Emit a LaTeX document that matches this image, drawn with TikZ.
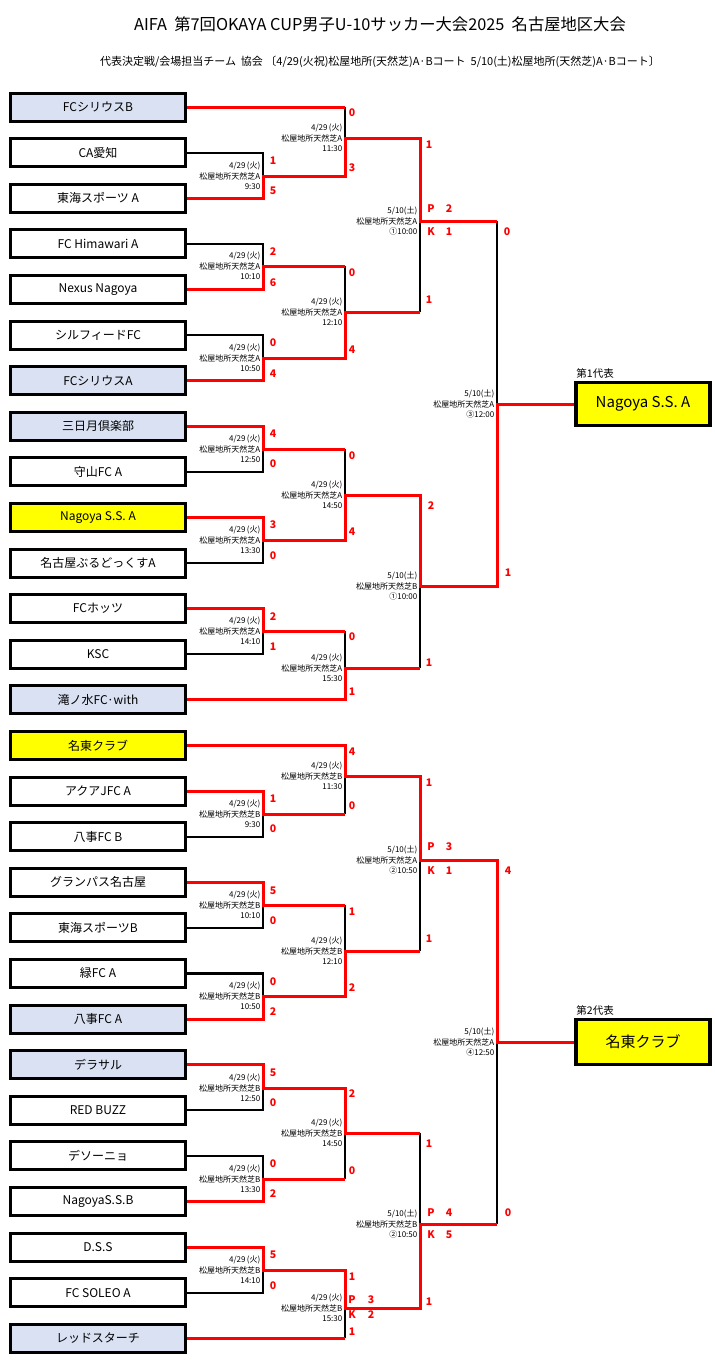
\documentclass[tikz,border=0pt]{standalone}
\usepackage{fontspec}
\setmainfont{Noto Sans CJK JP}
\definecolor{boxblue}{RGB}{217,225,242}
\definecolor{boxyellow}{RGB}{255,255,0}
\tikzset{
	team/.style={draw,line width=3pt,minimum width=175pt,minimum height=28pt,inner sep=0pt,font=\fontsize{12}{12}\selectfont},
	final/.style={draw,line width=3.5pt,fill=boxyellow,minimum width=134pt,minimum height=43pt,inner sep=0pt,font=\fontsize{15}{15}\selectfont},
	win/.style={red,line width=3pt},
	lose/.style={black,line width=2.2pt},
	score/.style={text=red,inner sep=0pt,font=\fontsize{10.5}{10.5}\selectfont\bfseries},
	date/.style={anchor=east,align=right,inner xsep=2.5pt,inner ysep=0pt,font=\fontsize{8}{10.5}\selectfont}
}
\begin{document}
\begin{tikzpicture}[x=1pt,y=-1pt]%名古屋地区大会 トーナメント
		\useasboundingbox (0,0) rectangle (715,1361);
		\node[font=\fontsize{16.3}{16.3}\selectfont] (title) at (380,24) {AIFA\ \ 第7回OKAYA CUP男子U-10サッカー大会2025\ \ 名古屋地区大会};
		\node[font=\fontsize{11}{11}\selectfont] (sub) at (380,62) {代表決定戦/会場担当チーム\ \ 協会\ 〔4/29(火祝)松屋地所(天然芝)A·Bコート\ \ 5/10(土)松屋地所(天然芝)A·Bコート〕};
		\foreach \name/\fc [count=\i] in {FCシリウスB/boxblue,CA愛知/white,東海スポーツ A/white,FC Himawari A/white,Nexus Nagoya/white,シルフィードFC/white,FCシリウスA/boxblue,三日月倶楽部/boxblue,守山FC A/white,Nagoya S.S. A/boxyellow,名古屋ぶるどっくすA/white,FCホッツ/white,KSC/white,滝ノ水FC·with/boxblue,名東クラブ/boxyellow,アクアJFC A/white,八事FC B/white,グランパス名古屋/white,東海スポーツB/white,緑FC A/white,八事FC A/boxblue,デラサル/boxblue,RED BUZZ/white,デソーニョ/white,NagoyaS.S.B/white,D.S.S/white,FC SOLEO A/white,レッドスターチ/boxblue}
		\node[team,fill=\fc] (t\i) at (98,{107+(\i-1)*45.6}) {\name};
		\node[final] (fin1) at (643,404) {Nagoya S.S. A};
		\node[final,minimum height=45pt] (fin2) at (643,1042) {名東クラブ};
		\node[anchor=south west,inner sep=2pt,font=\fontsize{10.5}{10.5}\selectfont] (rep1) at (fin1.north west) {第1代表};
		\node[anchor=south west,inner sep=2pt,font=\fontsize{10.5}{10.5}\selectfont] (rep2) at (fin2.north west) {第2代表};
		\coordinate (m1) at (263,176);
		\coordinate (m2) at (345,138);
		\coordinate (m3) at (263,266);
		\coordinate (m4) at (263,358);
		\coordinate (m5) at (345,312);
		\coordinate (m6) at (420,221);
		\coordinate (m7) at (263,449);
		\coordinate (m8) at (263,540);
		\coordinate (m9) at (345,495);
		\coordinate (m10) at (263,631);
		\coordinate (m11) at (345,668);
		\coordinate (m12) at (420,586);
		\coordinate (m13) at (497,404);
		\coordinate (m14) at (263,814);
		\coordinate (m15) at (345,776);
		\coordinate (m16) at (263,905);
		\coordinate (m17) at (263,996);
		\coordinate (m18) at (345,951);
		\coordinate (m19) at (420,860);
		\coordinate (m20) at (263,1088);
		\coordinate (m21) at (263,1179);
		\coordinate (m22) at (345,1133);
		\coordinate (m23) at (263,1270);
		\coordinate (m24) at (345,1308);
		\coordinate (m25) at (420,1224);
		\coordinate (m26) at (497,1042);
		% black
		\draw[lose] (t2.east) -| (m1);
		\draw[lose] (t1.east -| m2) -- (m2);
		\draw[lose] (t4.east) -| (m3);
		\draw[lose] (m3 -| m5) -- (m5);
		\draw[lose] (t6.east) -| (m4);
		\draw[lose] (m6) -- (m5 -| m6);
		\draw[lose] (m6 -| m13) -- (m13);
		\draw[lose] (t9.east) -| (m7);
		\draw[lose] (m7 -| m9) -- (m9);
		\draw[lose] (t11.east) -| (m8);
		\draw[lose] (t13.east) -| (m10);
		\draw[lose] (m10 -| m11) -- (m11);
		\draw[lose] (m11 -| m12) -- (m12);
		\draw[lose] (t17.east) -| (m14);
		\draw[lose] (m14 -| m15) -- (m15);
		\draw[lose] (t19.east) -| (m16);
		\draw[lose] (m16 -| m18) -- (m18);
		\draw[lose] (t20.east) -| (m17);
		\draw[lose] (m18 -| m19) -- (m19);
		\draw[lose] (t23.east) -| (m20);
		\draw[lose] (t24.east) -| (m21);
		\draw[lose] (m21 -| m22) -- (m22);
		\draw[lose] (m22 -| m25) -- (m25);
		\draw[lose] (t27.east) -| (m23);
		\draw[lose] (t28.east -| m24) -- (m24);
		\draw[lose] (m25 -| m26) -- (m26);
		% red
		\draw[win] (t1.east) -- (t1.east -| m2);
		\draw[win] (t3.east) -| (m1) -| (m2) -| (m6) -- (m6 -| m13);
		\draw[win] (t5.east) -| (m3) -- (m3 -| m5);
		\draw[win] (t7.east) -| (m4) -| (m5) -- (m5 -| m6);
		\draw[win] (t8.east) -| (m7) -- (m7 -| m9);
		\draw[win] (t10.east) -| (m8) -| (m9) -| (m12) -| (m13) -- (fin1.west);
		\draw[win] (t12.east) -| (m10) -- (m10 -| m11);
		\draw[win] (t14.east) -| (m11) -- (m11 -| m12);
		\draw[win] (t15.east) -| (m15) -| (m19) -| (m26) -- (fin2.west);
		\draw[win] (t16.east) -| (m14) -- (m14 -| m15);
		\draw[win] (t18.east) -| (m16) -- (m16 -| m18);
		\draw[win] (t21.east) -| (m17) -| (m18) -- (m18 -| m19);
		\draw[win] (t22.east) -| (m20) -| (m22) -- (m22 -| m25);
		\draw[win] (t25.east) -| (m21) -- (m21 -| m22);
		\draw[win] (t26.east) -| (m23) -| (m24) -| (m25) -- (m25 -| m26);
		\draw[win] (t28.east) -- (t28.east -| m24);
		\foreach \p/\dd/\cc/\tm [count=\i] in {m1/{4/29\,(火)}/A/9:30,m2/{4/29\,(火)}/A/11:30,m3/{4/29\,(火)}/A/10:10,m4/{4/29\,(火)}/A/10:50,m5/{4/29\,(火)}/A/12:10,m6/{5/10(土)}/A/①10:00,m7/{4/29\,(火)}/A/12:50,m8/{4/29\,(火)}/A/13:30,m9/{4/29\,(火)}/A/14:50,m10/{4/29\,(火)}/A/14:10,m11/{4/29\,(火)}/A/15:30,m12/{5/10(土)}/B/①10:00,m13/{5/10(土)}/A/③12:00,m14/{4/29\,(火)}/B/9:30,m15/{4/29\,(火)}/B/11:30,m16/{4/29\,(火)}/B/10:10,m17/{4/29\,(火)}/B/10:50,m18/{4/29\,(火)}/B/12:10,m19/{5/10(土)}/A/②10:50,m20/{4/29\,(火)}/B/12:50,m21/{4/29\,(火)}/B/13:30,m22/{4/29\,(火)}/B/14:50,m23/{4/29\,(火)}/B/14:10,m24/{4/29\,(火)}/B/15:30,m25/{5/10(土)}/B/②10:50,m26/{5/10(土)}/A/④12:50}
		\node[date] (d\i) at (\p) {\dd\\松屋地所天然芝\cc\\\tm};
		\foreach \x/\y/\s [count=\i] in {273/161/1,273/191/5,352/113/0,352/168/3,273/252/2,273/283/6,273/343/0,273/374/4,352/273/0,352/350/4,429/145/1,429/300/1,431/209/P,449/209/2,431/232/K,449/232/1,273/434/4,273/464/0,273/525/3,273/556/0,352/456/0,352/532/4,273/617/2,273/647/1,352/637/0,352/692/1,431/506/2,429/663/1,507/232/0,508/573/1,273/799/1,273/829/0,352/752/4,352/806/0,273/891/5,273/921/0,273/982/0,273/1012/2,352/912/1,352/988/2,429/783/1,429/939/1,431/847/P,449/847/3,431/871/K,449/871/1,508/871/4,273/1073/5,273/1103/0,273/1164/0,273/1194/2,352/1094/2,352/1171/0,273/1255/5,273/1286/0,352/1277/1,352/1332/1,352/1300/P,371/1300/3,352/1315/K,371/1315/2,429/1144/1,429/1302/1,431/1213/P,449/1213/4,431/1235/K,449/1235/5,508/1213/0}
		\node[score] (s\i) at (\x,\y) {\s};
\end{tikzpicture}
\end{document}
